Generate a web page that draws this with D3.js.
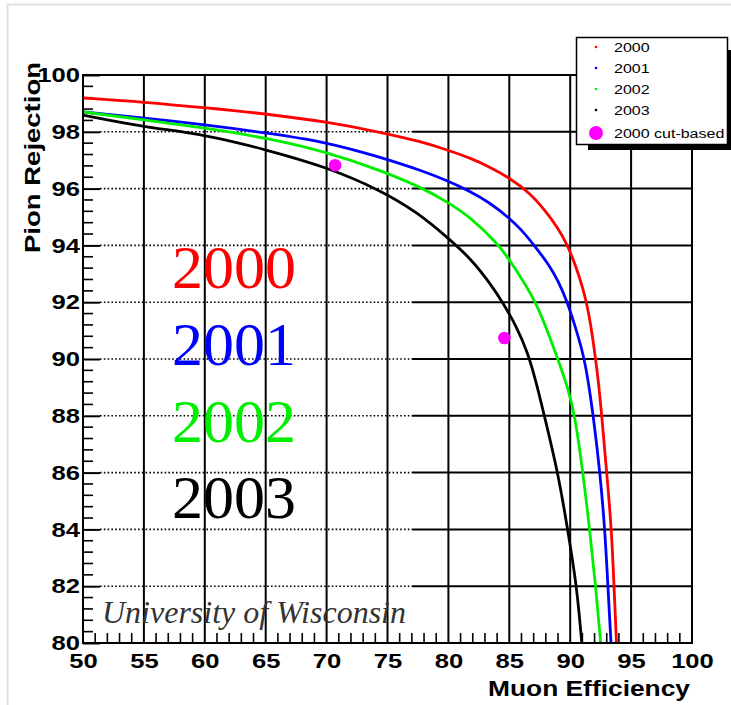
<!DOCTYPE html>
<html>
<head>
<meta charset="utf-8">
<script src="https://cdnjs.cloudflare.com/ajax/libs/d3/7.8.5/d3.min.js"></script>
<style>
  body { margin: 0; background: #fff; }
  text { font-family: "Liberation Sans", Arial, sans-serif; }
</style>
</head>
<body>
<script>
// chart data
var years = ["2000", "2001", "2002", "2003"];
var colors = ["#ff0000", "#0000ff", "#00ee00", "#000000"];

var eff2000 = [50, 55, 60.2, 65.1, 70, 74.4, 77.9, 79.9, 81.8, 83.4, 84.9, 86.7, 88.1, 89.0, 89.7, 90.4, 91.05, 91.5, 91.9, 92.3, 92.6, 93.0, 93.4, 93.6, 93.8];
var rej2000 = [99.19, 99.05, 98.84, 98.63, 98.35, 97.99, 97.64, 97.36, 97.08, 96.76, 96.41, 95.85, 95.14, 94.6, 94.08, 93.35, 92.5, 91.7, 90.6, 89.3, 87.96, 85.99, 83.98, 81.97, 80.0];

var eff2001 = [50, 55, 60.2, 65.1, 70, 74.4, 77.9, 79.9, 81.8, 83.4, 84.9, 86.0, 86.9, 88.3, 89.0, 89.7, 90.3, 91.0, 91.4, 91.9, 92.45, 92.85, 93.1, 93.35];
var rej2001 = [98.70, 98.49, 98.24, 97.96, 97.64, 97.11, 96.62, 96.28, 95.9, 95.5, 95.0, 94.55, 94.08, 93.3, 92.75, 92.08, 91.3, 90.3, 89.45, 88.0, 85.99, 83.98, 81.97, 80.0];

var eff2002 = [50, 55, 60.2, 65.1, 70, 74.4, 77.9, 79.9, 81.8, 84.0, 84.9, 86.1, 87.3, 88.4, 89.9, 90.4, 91.05, 91.6, 92.1, 92.5];
var rej2002 = [98.70, 98.42, 98.13, 97.78, 97.29, 96.65, 96.02, 95.53, 95.0, 94.08, 93.56, 92.78, 91.9, 90.7, 88.9, 87.96, 85.99, 83.98, 81.97, 80.0];

var eff2003 = [50, 55, 60.2, 65.1, 70, 74.4, 77.5, 80.0, 81.8, 83.4, 84.5, 85.6, 86.5, 87.2, 87.9, 89.0, 89.8, 90.55, 90.95];
var rej2003 = [98.59, 98.17, 97.89, 97.36, 96.76, 95.95, 95.15, 94.25, 93.55, 92.68, 91.97, 91.13, 90.25, 89.2, 87.96, 85.99, 83.98, 81.97, 80.0];

var cutEff = [70.7, 84.6];
var cutRej = [96.82, 90.74];

var xTicks = [50, 55, 60, 65, 70, 75, 80, 85, 90, 95, 100];
var yTicks = [80, 82, 84, 86, 88, 90, 92, 94, 96, 98, 100];
var legendLabels = ["2000", "2001", "2002", "2003", "2000 cut-based"];

// the sans text in the picture is drawn a bit wider than Arial
function stretch(sel, k) {
    sel.each(function() {
        var len = this.getComputedTextLength();
        d3.select(this).attr("textLength", len * k).attr("lengthAdjust", "spacingAndGlyphs");
    });
}

window.onload = function() {
    var w = 731, h = 705;
    var left = 83, right = 692, top = 75, bottom = 643;

    var svg = d3.select("body").append("svg")
        .attr("width", w)
        .attr("height", h);

    svg.append("rect").attr("width", w).attr("height", h).attr("fill", "#fff");
    // light outer border of the canvas
    svg.append("rect")
        .attr("x", 7.5).attr("y", 4.5)
        .attr("width", w).attr("height", h)
        .attr("fill", "none").attr("stroke", "#e2e2e2").attr("stroke-width", 2);

    var x = d3.scaleLinear().domain([50, 100]).range([left, right]);
    var y = d3.scaleLinear().domain([80, 100]).range([bottom, top]);

    // horizontal grid: dotted on the left part, solid further right
    var inner = yTicks.slice(1, -1);
    svg.selectAll(".hdot").data(inner).enter().append("line")
        .attr("x1", x(50) + 17).attr("x2", x(77))
        .attr("y1", function(d) { return y(d); }).attr("y2", function(d) { return y(d); })
        .attr("stroke", "#000").attr("stroke-width", 1.6).attr("stroke-dasharray", "1.6,2.2");
    svg.selectAll(".hsol").data(inner).enter().append("line")
        .attr("x1", x(77)).attr("x2", x(100))
        .attr("y1", function(d) { return y(d); }).attr("y2", function(d) { return y(d); })
        .attr("stroke", "#000").attr("stroke-width", 2);

    // vertical grid
    svg.selectAll(".vgrid").data(xTicks.slice(1, -1)).enter().append("line")
        .attr("x1", function(d) { return x(d); }).attr("x2", function(d) { return x(d); })
        .attr("y1", y(80)).attr("y2", y(100))
        .attr("stroke", "#000").attr("stroke-width", 2);

    // minor ticks
    var yMinor = d3.range(80, 100.01, 0.4).filter(function(d) {
        return Math.abs(d / 2 - Math.round(d / 2)) > 0.01;
    });
    svg.selectAll(".ymin").data(yMinor).enter().append("line")
        .attr("x1", left).attr("x2", left + 10)
        .attr("y1", function(d) { return y(d); }).attr("y2", function(d) { return y(d); })
        .attr("stroke", "#000").attr("stroke-width", 1.6);
    var xMinor = d3.range(51, 100, 1).filter(function(d) { return d % 5 != 0; });
    svg.selectAll(".xmin").data(xMinor).enter().append("line")
        .attr("x1", function(d) { return x(d); }).attr("x2", function(d) { return x(d); })
        .attr("y1", bottom).attr("y2", bottom - 10)
        .attr("stroke", "#000").attr("stroke-width", 1.6);

    // axes (labels + major y ticks)
    var yAxis = svg.append("g")
        .attr("transform", "translate(" + left + ",0)")
        .call(d3.axisLeft(y).tickValues(yTicks).tickSize(-17).tickPadding(3));
    var xAxis = svg.append("g")
        .attr("transform", "translate(0," + bottom + ")")
        .call(d3.axisBottom(x).tickValues(xTicks).tickSize(0).tickPadding(10));
    [xAxis, yAxis].forEach(function(a) {
        a.select(".domain").remove();
        a.selectAll("line").attr("stroke", "#000").attr("stroke-width", 2);
        a.selectAll("text")
            .attr("font-family", "Liberation Sans, Arial, sans-serif")
            .attr("font-size", 21).attr("font-weight", "bold").attr("fill", "#000")
            .call(stretch, 1.22);
    });

    // curves
    svg.append("clipPath").attr("id", "plotclip").append("rect")
        .attr("x", left).attr("y", top).attr("width", right - left).attr("height", bottom - top);

    var series = [
        { e: eff2000, r: rej2000 },
        { e: eff2001, r: rej2001 },
        { e: eff2002, r: rej2002 },
        { e: eff2003, r: rej2003 }
    ];
    var line = d3.line()
        .x(function(d) { return x(d[0]); })
        .y(function(d) { return y(d[1]); })
        .curve(d3.curveBasis);

    svg.append("g").attr("clip-path", "url(#plotclip)")
        .selectAll("path").data(series).enter().append("path")
        .attr("d", function(s) { return line(d3.zip(s.e, s.r)); })
        .attr("fill", "none")
        .attr("stroke", function(s, i) { return colors[i]; })
        .attr("stroke-width", 2.8);

    // cut-based points
    svg.selectAll(".cut").data(d3.zip(cutEff, cutRej)).enter().append("circle")
        .attr("cx", function(d) { return x(d[0]); })
        .attr("cy", function(d) { return y(d[1]); })
        .attr("r", 6.3)
        .attr("fill", "#ff00ff");

    // frame
    svg.append("rect")
        .attr("x", left).attr("y", top)
        .attr("width", right - left).attr("height", bottom - top)
        .attr("fill", "none").attr("stroke", "#000").attr("stroke-width", 2);

    // axis titles
    svg.append("text")
        .attr("x", 690).attr("y", 696)
        .attr("text-anchor", "end")
        .attr("font-size", 22).attr("font-weight", "bold")
        .attr("textLength", 202).attr("lengthAdjust", "spacingAndGlyphs")
        .text("Muon Efficiency");
    svg.append("text")
        .attr("transform", "translate(40,62) rotate(-90)")
        .attr("text-anchor", "end")
        .attr("font-size", 22).attr("font-weight", "bold")
        .attr("textLength", 191).attr("lengthAdjust", "spacingAndGlyphs")
        .text("Pion Rejection");

    // big year labels
    var bigY = [288, 365, 442, 518];
    svg.selectAll(".big").data(years).enter().append("text")
        .attr("x", 172)
        .attr("y", function(d, i) { return bigY[i]; })
        .style("font-family", "'Liberation Serif', 'Times New Roman', serif")
        .attr("font-size", 62)
        .attr("fill", function(d, i) { return colors[i]; })
        .text(function(d) { return d; });

    // watermark
    svg.append("text")
        .attr("x", 102).attr("y", 623)
        .style("font-family", "'Liberation Serif', 'Times New Roman', serif")
        .attr("font-size", 32).attr("font-style", "italic")
        .attr("fill", "#333")
        .text("University of Wisconsin");

    // legend
    var lx = 576.5, ly = 37.5, lw = 151, lh = 107;
    svg.append("rect")
        .attr("x", 588).attr("y", 50).attr("width", 150).attr("height", 100)
        .attr("fill", "#000");
    svg.append("rect")
        .attr("x", lx).attr("y", ly).attr("width", lw).attr("height", lh)
        .attr("fill", "#fff").attr("stroke", "#000").attr("stroke-width", 1.5);
    var rowY = [47, 68, 89, 110, 133];
    var leg = svg.selectAll(".leg").data(legendLabels).enter().append("g")
        .attr("transform", function(d, i) { return "translate(0," + rowY[i] + ")"; });
    leg.append("circle")
        .attr("cx", 596).attr("cy", 0)
        .attr("r", function(d, i) { return i == 4 ? 7 : 1.3; })
        .attr("fill", function(d, i) { return i == 4 ? "#ff00ff" : colors[i]; });
    leg.append("text")
        .attr("x", 614).attr("y", 4.5)
        .attr("font-size", 12.5)
        .text(function(d) { return d; })
        .call(stretch, 1.28);
};
</script>
</body>
</html>
